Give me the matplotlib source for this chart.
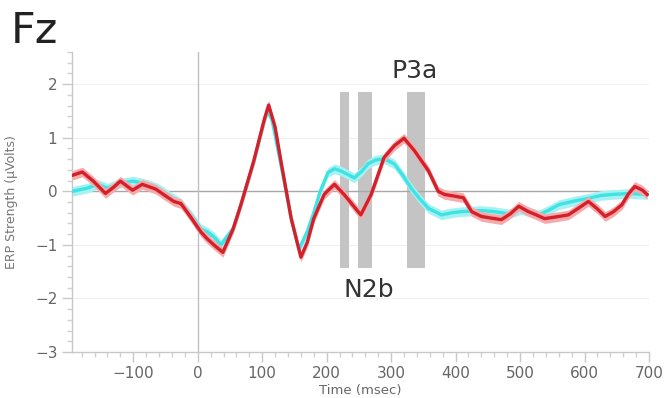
import matplotlib
matplotlib.use("Agg")
import matplotlib.pyplot as plt
import numpy as np

# ERP at Fz, two conditions (red / cyan)
red_t = [-194, -179, -162, -143, -130, -120, -101, -86, -65, -53, -37, -26, -11, 5, 15,
         25, 39, 55, 67, 87, 103, 110, 120, 129, 145, 160, 170, 180, 196, 212, 227, 240,
         253, 269, 289, 305, 320, 336, 358, 373, 383, 398, 412, 425, 440, 455, 471,
         485, 498, 513, 525, 538, 555, 575, 590, 606, 620, 632, 645, 658, 668, 678, 690, 697]
red_v = [0.30, 0.36, 0.19, -0.04, 0.08, 0.19, 0.02, 0.13, 0.04, -0.06, -0.19, -0.23, -0.48, -0.76, -0.89,
         -1.00, -1.14, -0.70, -0.25, 0.57, 1.33, 1.61, 1.20, 0.57, -0.51, -1.23, -0.95, -0.51, -0.06, 0.13, -0.06, -0.25,
         -0.44, -0.06, 0.63, 0.85, 0.99, 0.76, 0.38, 0.00, -0.06, -0.09, -0.12, -0.38, -0.47, -0.50, -0.53,
         -0.42, -0.28, -0.38, -0.44, -0.51, -0.48, -0.44, -0.32, -0.19, -0.33, -0.47, -0.38, -0.25, -0.05, 0.09, 0.02, -0.06]

cyan_t = [-194, -171, -155, -140, -120, -101, -84, -62, -42, -26, -10, 5, 15, 25, 36,
          55, 67, 87, 103, 108, 115, 129, 145, 157, 170, 180, 190, 202, 212, 222, 235, 243,
          255, 264, 275, 289, 305, 318, 331, 345, 358, 378, 395, 409, 440, 460, 482,
          502, 529, 545, 560, 585, 606, 625, 642, 669, 697]
cyan_v = [0.00, 0.06, 0.13, 0.06, 0.15, 0.19, 0.15, 0.06, -0.10, -0.22, -0.45, -0.70, -0.76, -0.85, -1.00,
          -0.70, -0.25, 0.55, 1.30, 1.50, 1.35, 0.50, -0.50, -1.08, -0.75, -0.40, 0.00, 0.35, 0.42, 0.38, 0.30, 0.25,
          0.38, 0.51, 0.58, 0.61, 0.51, 0.30, 0.06, -0.15, -0.32, -0.44, -0.40, -0.38, -0.36, -0.38, -0.42,
          -0.34, -0.44, -0.35, -0.25, -0.18, -0.13, -0.08, -0.06, -0.04, -0.06]

# analysis windows (ms)
win_start = [221, 248, 325]
win_end = [234, 271, 353]
win_low, win_high = -1.44, 1.85

err = 0.09

fig = plt.figure(figsize=(6.64, 3.98), dpi=100)
ax = fig.add_axes([72 / 664, 46 / 398, 577 / 664, 300 / 398])

for s, e in zip(win_start, win_end):
    ax.fill_between([s, e], win_low, win_high, color="#c4c4c4", lw=0, zorder=1)

for yv in [-2, -1, 1, 2]:
    ax.axhline(yv, color="#f0f0f0", lw=0.8, zorder=0)
ax.axhline(0, color="#a8a8a8", lw=1.0, zorder=1)
ax.axvline(0, color="#c0c0c0", lw=1.0, zorder=1)

ct = np.array(cyan_t)
cv = np.array(cyan_v)
ax.fill_between(ct, cv - err, cv + err, color="#a6f2f2", lw=0, zorder=2)
ax.plot(ct, cv, color="#3fe3e3", lw=2.4, zorder=3, solid_joinstyle="round")

rt = np.array(red_t)
rv = np.array(red_v)
ax.fill_between(rt, rv - err, rv + err, color="#f6aaaa", lw=0, zorder=4)
ax.plot(rt, rv, color="#d4202a", lw=2.4, zorder=5, solid_joinstyle="round")

ax.set_xlim(-195, 700)
ax.set_ylim(-3, 2.6)
ax.set_xticks(range(-100, 701, 100))
ax.set_xticks(range(-180, 701, 20), minor=True)
ax.set_yticks([-3, -2, -1, 0, 1, 2])
ax.set_yticks(np.arange(-3, 2.61, 0.2), minor=True)
ax.set_xticklabels(["\u2212100", "0", "100", "200", "300", "400", "500", "600", "700"])
ax.set_yticklabels(["\u22123", "\u22122", "\u22121", "0", "1", "2"])

for sp in ["top", "right"]:
    ax.spines[sp].set_visible(False)
for sp in ["left", "bottom"]:
    ax.spines[sp].set_color("#c8c8c8")
    ax.spines[sp].set_linewidth(1.0)

ax.tick_params(which="major", length=7, width=1, color="#c8c8c8",
               labelcolor="#666666", labelsize=11)
ax.tick_params(axis="x", which="major", pad=3)
ax.tick_params(which="minor", length=3.5, width=1, color="#d0d0d0")

ax.set_ylabel("ERP Strength (\u00b5Volts)", fontsize=9, color="#777777", labelpad=12)
fig.text((72 + 577 / 2) / 664, 0.002, "Time (msec)", fontsize=9.5, color="#666666",
         ha="center", va="bottom")

ax.text(337, 2.24, "P3a", fontsize=18, color="#333333", ha="center", va="center")
ax.text(265, -1.85, "N2b", fontsize=18, color="#333333", ha="center", va="center")

fig.text(0.016, 0.892, "Fz", fontsize=31, color="#222222", ha="left", va="baseline")

fig.savefig("out.png", dpi=100)
